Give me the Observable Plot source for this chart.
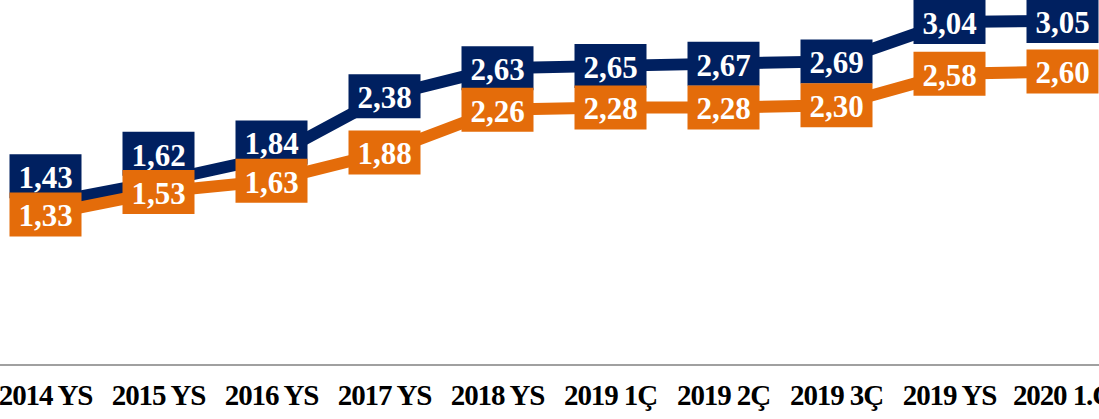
<!DOCTYPE html>
<html><head><meta charset="utf-8">
<script src="https://cdn.jsdelivr.net/npm/d3@7"></script>
<script src="https://cdn.jsdelivr.net/npm/@observablehq/plot@0.6"></script>
<style>
html,body{margin:0;padding:0;background:#fff;overflow:hidden}
#chart g[aria-label="x-axis tick label"] text{letter-spacing:-1.1px}
#chart svg text{font-family:'Liberation Serif','Times New Roman',serif}
</style>
</head><body><div id="chart"></div>
<script>
const categories = ["2014 YS","2015 YS","2016 YS","2017 YS","2018 YS","2019 1Ç","2019 2Ç","2019 3Ç","2019 YS","2020 1.Ç"];
const navyValues = [1.43,1.62,1.84,2.38,2.63,2.65,2.67,2.69,3.04,3.05];
const orangeValues = [1.33,1.53,1.63,1.88,2.26,2.28,2.28,2.30,2.58,2.60];

const NAVY = "#002060", ORANGE = "#E46C0A";
const fmt = d3.format(".2f");
const label = v => fmt(v).replace(".", ",");
// navy labels are pushed up when they would collide with the orange labels
const navy = categories.map((c, i) => ({cat: c, v: navyValues[i], lv: Math.max(navyValues[i], orangeValues[i] + 0.34)}));
const orange = categories.map((c, i) => ({cat: c, v: orangeValues[i]}));
const boxW = 72, boxH = 44;
const box = {draw(ctx) { ctx.rect(-boxW / 2, -boxH / 2, boxW, boxH); }};

const chart = Plot.plot({
  width: 1099, height: 419,
  marginLeft: 0, marginRight: 0, marginTop: 0, marginBottom: 55,
  x: {type: "point", domain: categories, range: [42.4, 1064.8], padding: 0, axis: null, label: null},
  y: {domain: [0, 3.2], range: [363.5, 3.5], axis: null},
  style: {fontFamily: "'Liberation Serif','Times New Roman',serif", background: "#fff", overflow: "hidden"},
  marks: [
    Plot.ruleY([0], {stroke: "#a0a0a0", strokeWidth: 2, dy: 1}),
    Plot.axisX({domain: categories, label: null, tickSize: 0, tickPadding: 20, fontSize: 29, fontWeight: "bold", fill: "#000", color: "#000"}),
    Plot.line(navy, {x: "cat", y: "v", stroke: NAVY, strokeWidth: 12, strokeLinejoin: "miter"}),
    Plot.line(orange, {x: "cat", y: "v", stroke: ORANGE, strokeWidth: 12, strokeLinejoin: "miter"}),
    Plot.dot(navy, {x: "cat", y: "lv", symbol: box, r: 10, fill: NAVY, stroke: null}),
    Plot.text(navy, {x: "cat", y: "lv", text: d => label(d.v), fill: "#fff", fontSize: 31, fontWeight: "bold", dy: 2}),
    Plot.dot(orange, {x: "cat", y: "v", symbol: box, r: 10, fill: ORANGE, stroke: null}),
    Plot.text(orange, {x: "cat", y: "v", text: d => label(d.v), fill: "#fff", fontSize: 31, fontWeight: "bold", dy: 2})
  ]
});
document.getElementById("chart").appendChild(chart);
</script>
</body></html>
